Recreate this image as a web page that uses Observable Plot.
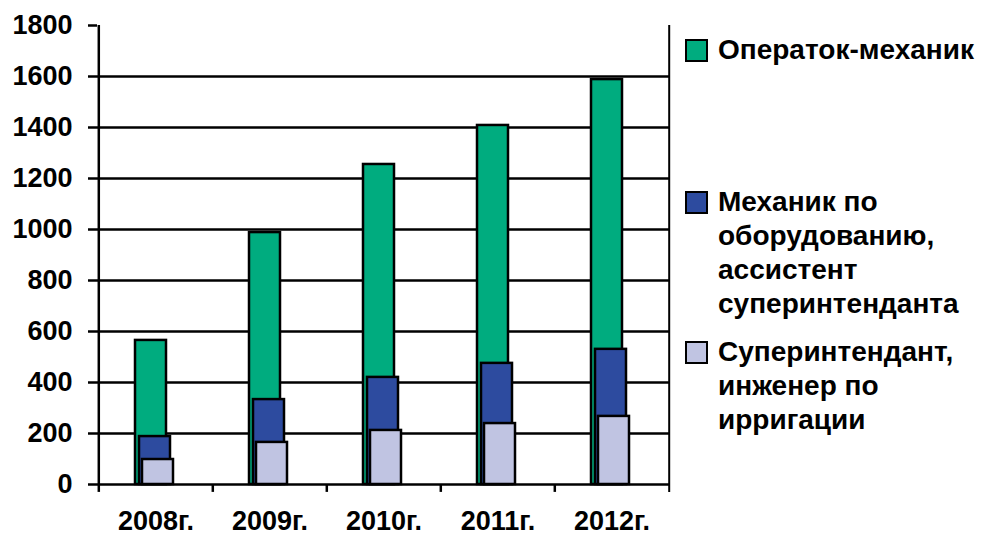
<!DOCTYPE html>
<html>
<head>
<meta charset="utf-8">
<script src="https://cdn.jsdelivr.net/npm/d3@7"></script>
<script src="https://cdn.jsdelivr.net/npm/@observablehq/plot@0.6"></script>
<style>
  html, body { margin: 0; padding: 0; background: #fff; }
  #wrap { position: relative; width: 992px; height: 538px; font-family: "Liberation Sans", Arial, sans-serif; }
  .leg { position: absolute; left: 685px; font-weight: bold; font-size: 28px; line-height: 34px; color: #000; }
  .leg .sw { position: absolute; left: 0; top: 6px; width: 19px; height: 19px; border: 2px solid #000; }
  .leg .tx { position: absolute; left: 33px; top: 0; white-space: nowrap; }
</style>
</head>
<body>
<div id="wrap"></div>
<script>
const years = ["2008г.", "2009г.", "2010г.", "2011г.", "2012г."];
const operator = [565, 988, 1255, 1408, 1588];
const mechanic = [188, 333, 420, 475, 530];
const superint = [98, 165, 212, 239, 267];
const yTicks = [0, 200, 400, 600, 800, 1000, 1200, 1400, 1600, 1800];
const gridValues = [200, 400, 600, 800, 1000, 1200, 1400, 1600];
const seriesNames = ["Операток-механик", "Механик по\nоборудованию,\nассистент\nсуперинтенданта", "Суперинтендант,\nинженер по\nирригации"];
const colors = ["#00AC7F", "#2D4B9F", "#C0C4E2"];

const rows = (vals) => years.map((y, i) => ({year: y, value: vals[i]}));

const marginLeft = 97, plotRight = 669, width = 992;
const step = (plotRight - marginLeft) / years.length;

const barStyle = {stroke: "#000", strokeWidth: 2.5};
const chart = Plot.plot({
  width,
  height: 538,
  marginLeft,
  marginRight: width - plotRight,
  marginTop: 25,
  marginBottom: 54,
  style: {fontFamily: "'Liberation Sans', Arial, sans-serif", background: "#fff", overflow: "visible"},
  x: {domain: years, paddingInner: 0.73, paddingOuter: 0.365, label: null},
  y: {domain: [0, 1800], label: null},
  marks: [
    Plot.ruleY(gridValues, {stroke: "#000", strokeWidth: 2.5}),
    Plot.barY(rows(operator), {x: "year", y: "value", fill: colors[0], ...barStyle, dx: -5}),
    Plot.barY(rows(mechanic), {x: "year", y: "value", fill: colors[1], ...barStyle, dx: -1}),
    Plot.barY(rows(superint), {x: "year", y: "value", fill: colors[2], ...barStyle, dx: 2}),
    // slot boundary ticks below axis
    Plot.ruleX(years, {x: d => d, y1: -31, y2: 0, dx: -step / 2, stroke: "#000", strokeWidth: 2.5}),
    Plot.ruleX([years[years.length - 1]], {x: d => d, y1: -31, y2: 1800, dx: step / 2, stroke: "#000", strokeWidth: 2}),
    Plot.ruleX([years[0]], {x: d => d, y1: 0, y2: 1800, dx: -step / 2, stroke: "#000", strokeWidth: 2.5}),
    Plot.ruleY([0], {stroke: "#000", strokeWidth: 2.5}),
    Plot.axisY({ticks: yTicks, tickSize: 9, tickPadding: 16, fontSize: 27, fontWeight: "bold", stroke: "#000", strokeWidth: 2.5, tickFormat: d => String(d), fill: "#000"}),
    Plot.axisX({tickSize: 0, tickPadding: 26, fontSize: 27, fontWeight: "bold", fill: "#000"})
  ]
});
chart.querySelectorAll("text").forEach(t => t.style.fontWeight = "bold");
const wrap = document.getElementById("wrap");
wrap.appendChild(chart);

const tops = [33, 185, 335];
seriesNames.forEach((name, i) => {
  const d = document.createElement("div");
  d.className = "leg";
  d.style.top = tops[i] + "px";
  const sw = document.createElement("div");
  sw.className = "sw";
  sw.style.background = colors[i];
  const tx = document.createElement("div");
  tx.className = "tx";
  tx.innerHTML = name.split("\n").join("<br>");
  d.appendChild(sw);
  d.appendChild(tx);
  wrap.appendChild(d);
});
</script>
</body>
</html>
